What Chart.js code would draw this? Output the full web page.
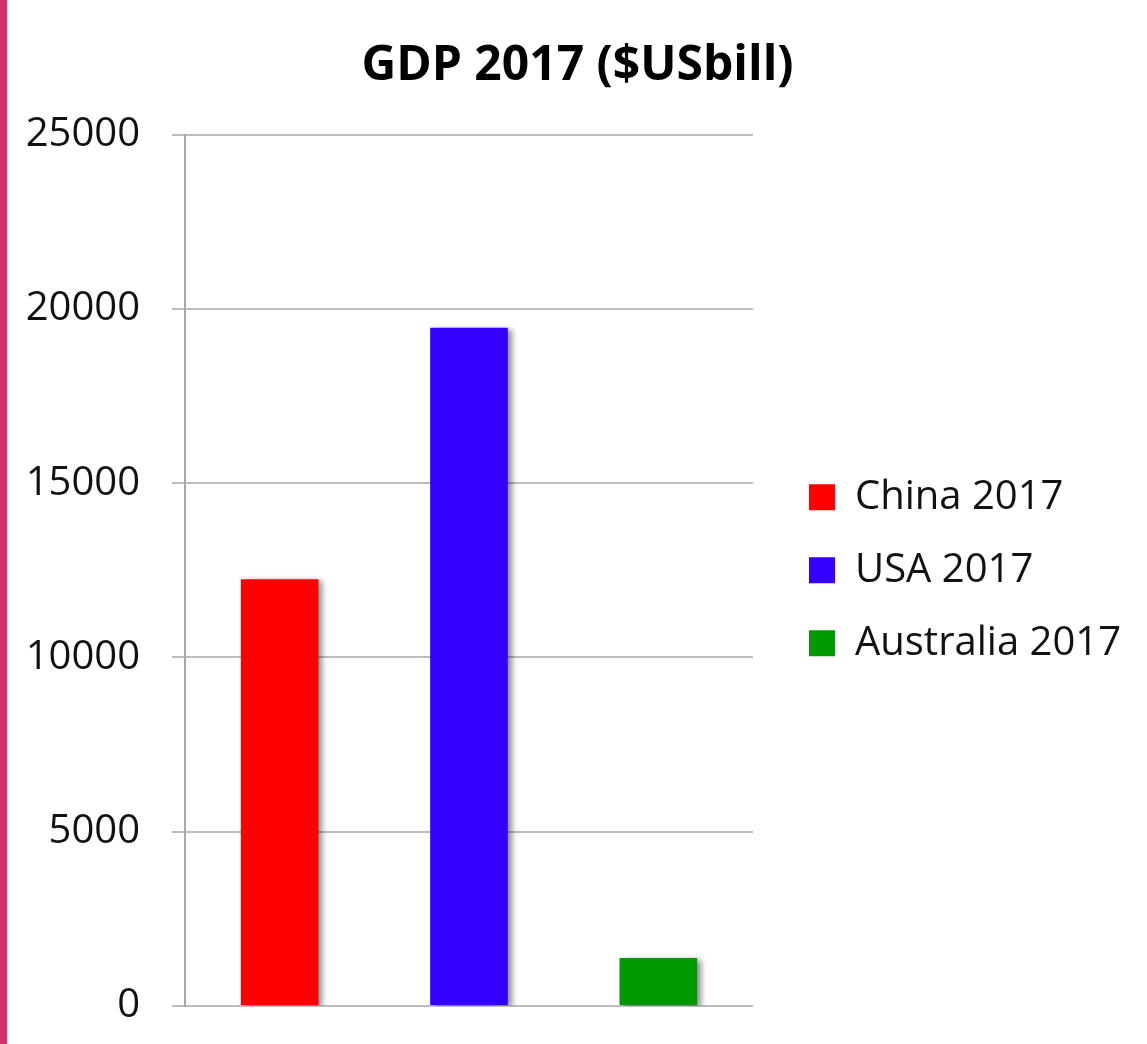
<!DOCTYPE html>
<html>
<head>
<meta charset="utf-8">
<title>GDP 2017</title>
<script src="https://cdn.jsdelivr.net/npm/chart.js@4"></script>
<style>
  html, body { margin: 0; padding: 0; background: #fff; }
  #wrap { position: relative; width: 1147px; height: 1044px; }
  #edge { position: absolute; left: 0; top: 0; width: 7px; height: 100%; background: #d42f6b; }
</style>
</head>
<body>
<div id="wrap">
  <canvas id="chart"></canvas>
  <div id="edge"></div>
</div>
<script>
// ---- data ----
const categories = ["China 2017", "USA 2017", "Australia 2017"];
const gdpValues = [12240, 19460, 1380];
const barColors = ["#ff0000", "#3300ff", "#009a00"];
const yTicks = [0, 5000, 10000, 15000, 20000, 25000];

const FONT = "'Open Sans', Lato, sans-serif";
const INK = "#111";

// soft drop shadow behind the bars
const barShadow = {
  id: "barShadow",
  beforeDatasetsDraw(chart) {
    const ctx = chart.ctx;
    ctx.save();
    ctx.shadowColor = "rgba(0,0,0,0.45)";
    ctx.shadowBlur = 6;
    ctx.shadowOffsetX = 4;
    ctx.shadowOffsetY = 2;
  },
  afterDatasetsDraw(chart) {
    chart.ctx.restore();
  }
};

const ctx = document.getElementById("chart").getContext("2d");

new Chart(ctx, {
  type: "bar",
  data: {
    labels: categories,
    datasets: [{
      label: "GDP 2017",
      data: gdpValues,
      backgroundColor: barColors,
      borderWidth: 0,
      categoryPercentage: 1,
      barPercentage: 0.41
    }]
  },
  plugins: [barShadow],
  options: {
    responsive: true,
    maintainAspectRatio: false,
    animation: false,
    layout: {
      padding: { left: 24, right: 16, top: 0, bottom: 38 }
    },
    plugins: {
      title: {
        display: true,
        text: "GDP 2017 ($USbill)",
        color: "#000",
        font: { family: FONT, size: 48, weight: "bold", lineHeight: 1.2 },
        padding: { top: 38, bottom: 39 }
      },
      legend: {
        position: "right",
        align: "center",
        fullSize: false,
        maxWidth: 420,
        labels: {
          color: INK,
          font: { family: FONT, size: 40 },
          boxWidth: 26,
          boxHeight: 26,
          padding: 33,
          generateLabels: () => categories.map((c, i) => ({
            text: c,
            fillStyle: barColors[i],
            strokeStyle: barColors[i],
            lineWidth: 0,
            fontColor: INK,
            hidden: false,
            index: i
          }))
        }
      },
      tooltip: { enabled: false }
    },
    scales: {
      x: {
        display: false
      },
      y: {
        min: yTicks[0],
        max: yTicks[yTicks.length - 1],
        afterBuildTicks: scale => {
          scale.ticks = yTicks.map(v => ({ value: v }));
        },
        afterFit: scale => {
          scale.width = 161;
          // labels may overhang the plot; don't shrink it for them
          scale.paddingTop = 0;
          scale.paddingBottom = 0;
        },
        ticks: {
          color: INK,
          font: { family: FONT, size: 40 },
          padding: 32,
          callback: v => String(v)
        },
        grid: {
          color: "#bdbdbd",
          lineWidth: 2,
          tickLength: 13
        },
        border: {
          display: true,
          color: "#a8a8a8",
          width: 2
        }
      },
      // empty right-hand spacer between plot and legend
      gap: {
        position: "right",
        axis: "y",
        display: true,
        afterFit: scale => {
          scale.width = 23;
          scale.paddingTop = 0;
          scale.paddingBottom = 0;
        },
        ticks: { display: false },
        grid: { display: false, drawTicks: false },
        border: { display: false }
      }
    }
  }
});
</script>
</body>
</html>
